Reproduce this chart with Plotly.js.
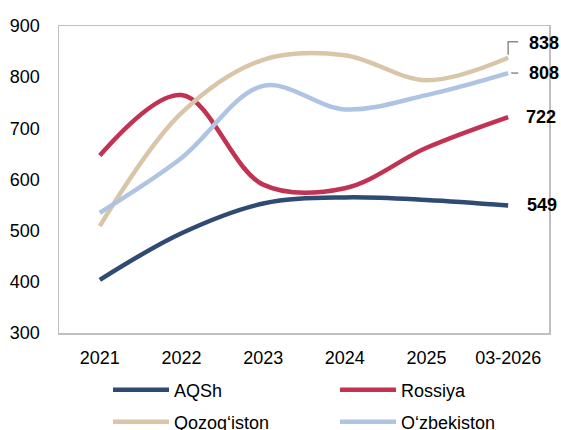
<!DOCTYPE html>
<html><head><meta charset="utf-8">
<script src="https://cdn.plot.ly/plotly-3.0.1.min.js"></script>
<style>html,body{margin:0;padding:0;background:#fff}#c{width:561px;height:430px}</style>
</head><body><div id="c"></div>
<script>
const categories = ["2021","2022","2023","2024","2025","03-2026"];
const seriesNames = ["AQSh","Rossiya","Qozog\u2018iston","O\u2018zbekiston"];
const aqsh = [404, 495, 553, 565, 560, 549];
const rossiya = [647, 765, 590, 583, 662, 722];
const qozogiston = [509, 730, 834, 843, 794, 838];
const ozbekiston = [535, 642, 783, 737, 765, 808];
const yTicks = [300,400,500,600,700,800,900];

const colors = ["#2f4b73","#c23252","#d9c5a8","#afc4e2"];
const values = [aqsh, rossiya, qozogiston, ozbekiston];
const legends = ["legend","legend","legend2","legend2"];
const FONT = "Liberation Sans, Arial, sans-serif";

const traces = values.map((v,i)=>({
  type:"scatter", mode:"lines", x:categories, y:v, name:seriesNames[i],
  line:{color:colors[i], width:4.5, shape:"spline", smoothing:1},
  legend:legends[i], cliponaxis:false
}));

const last = categories.length-1;
const labelShift = [{xs:17,ys:1},{xs:16,ys:0},{xs:19,ys:15},{xs:19,ys:0}];
const annotations = values.map((v,i)=>({
  x:categories[last], y:v[last], xref:"x", yref:"y",
  text:String(v[last]), showarrow:false, xanchor:"left",
  xshift:labelShift[i].xs, yshift:labelShift[i].ys,
  font:{family:FONT, size:18, color:"#000", weight:"bold"}
}));

const shapes = [
  {type:"path", xref:"x", yref:"y", xsizemode:"pixel", ysizemode:"pixel",
   xanchor:categories[last], yanchor:qozogiston[last],
   path:"M0,3 L0,16 L10,16", line:{color:"#8c8c8c", width:1.5}},
  {type:"path", xref:"x", yref:"y", xsizemode:"pixel", ysizemode:"pixel",
   xanchor:categories[last], yanchor:ozbekiston[last],
   path:"M3,0 L10,0", line:{color:"#8c8c8c", width:1.5}}
];

const legendCommon = {orientation:"h", xref:"container", yref:"container",
  xanchor:"left", yanchor:"middle", entrywidth:156, itemwidth:56,
  font:{family:FONT, size:18, color:"#000"}, bgcolor:"rgba(0,0,0,0)", traceorder:"normal"};

const layout = {
  width:561, height:430,
  margin:{l:59, r:12, t:26, b:97},
  paper_bgcolor:"#fff", plot_bgcolor:"#fff",
  font:{family:FONT, size:18, color:"#000"},
  showlegend:true,
  xaxis:{type:"category", range:[-0.5,5.5], showgrid:false, zeroline:false,
    showline:true, mirror:true, linecolor:"#bfbfbf", linewidth:1.5,
    ticks:"", ticklabelstandoff:8, tickfont:{family:FONT,size:18,color:"#000"}, fixedrange:true},
  yaxis:{range:[300,900], tickvals:yTicks, showgrid:false, zeroline:false,
    showline:true, mirror:true, linecolor:"#bfbfbf", linewidth:1.5,
    ticks:"", ticklabelstandoff:14, tickfont:{family:FONT,size:18,color:"#000"}, fixedrange:true},
  legend:Object.assign({}, legendCommon, {x:108/561, y:1-390/430}),
  legend2:Object.assign({}, legendCommon, {x:108/561, y:1-422/430}),
  annotations:annotations,
  shapes:shapes
};
Plotly.newPlot("c", traces, layout, {displayModeBar:false, staticPlot:true});
</script></body></html>
